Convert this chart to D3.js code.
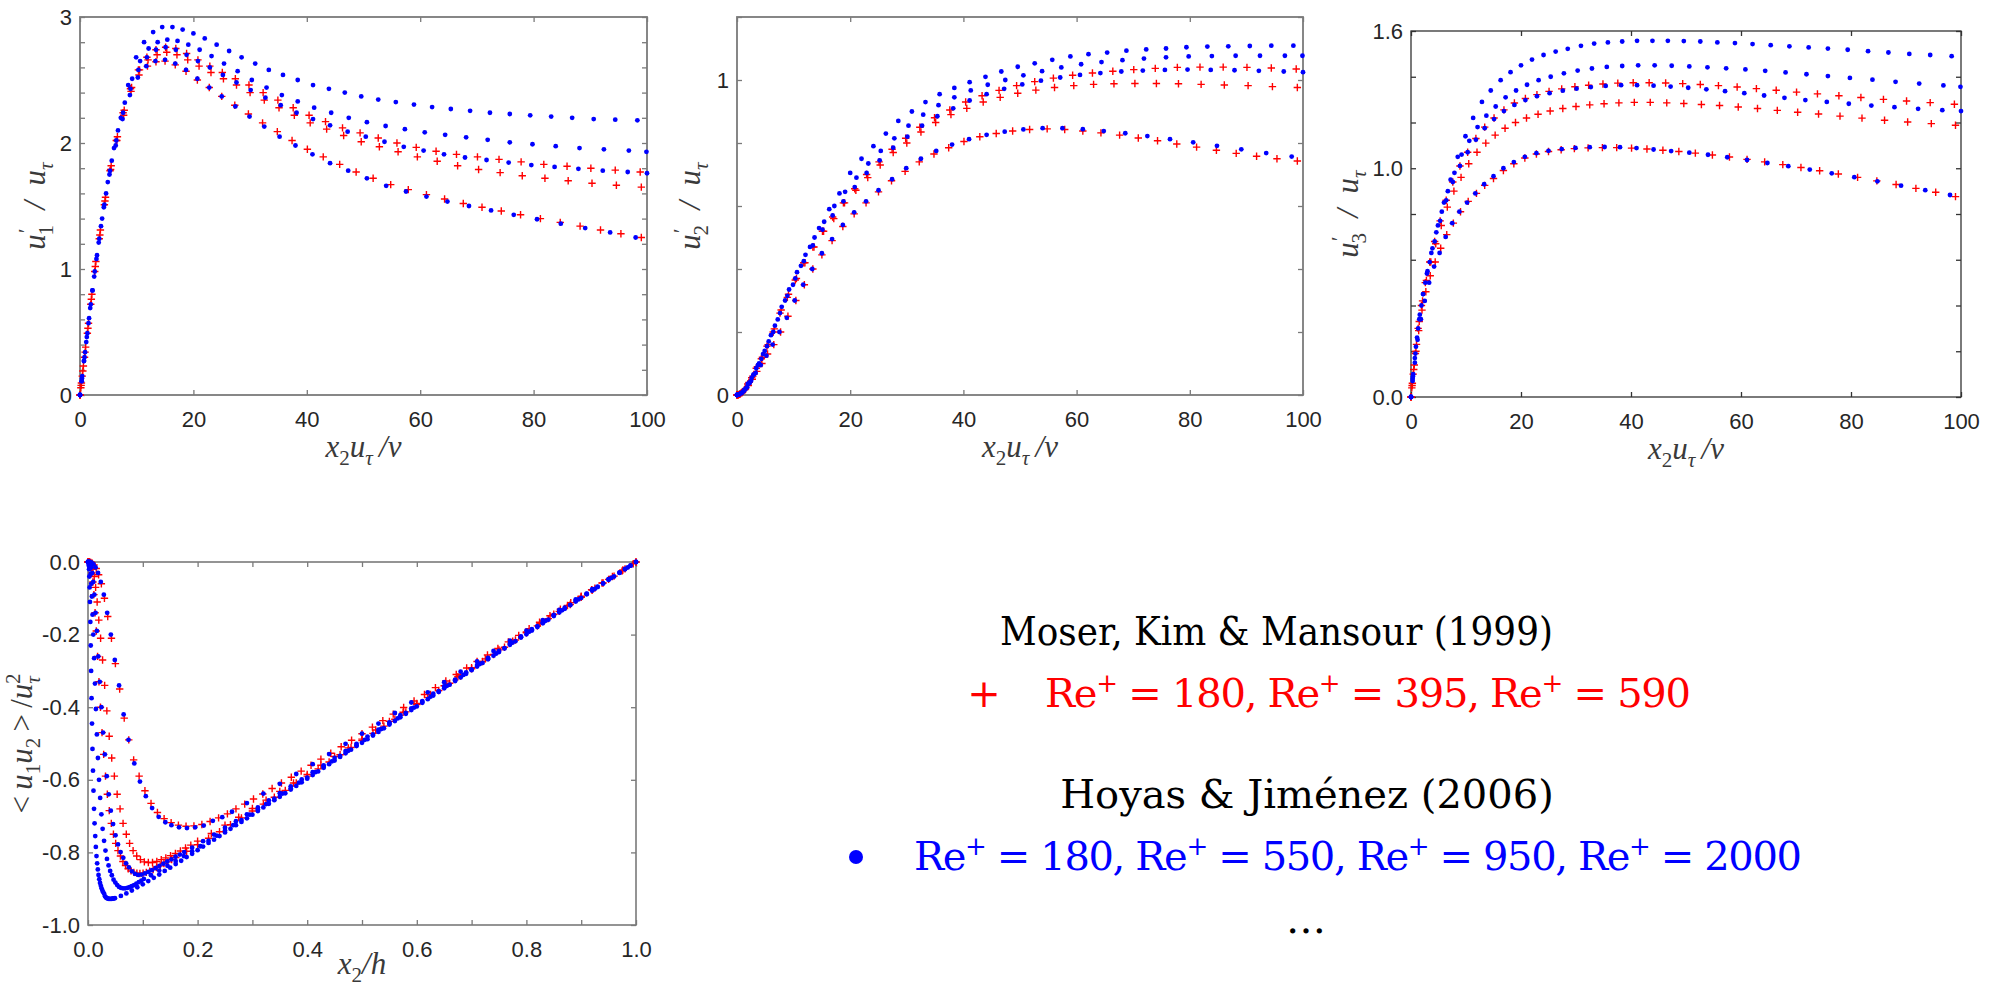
<!DOCTYPE html>
<html>
<head>
<meta charset="utf-8">
<script src="https://cdn.jsdelivr.net/npm/d3@7"></script>
<style>
body{margin:0;background:#fff;}
svg{display:block;}
.tick text{font-family:"Liberation Sans",Arial,sans-serif;font-size:22px;fill:#262626;}
.mlab{font-family:"Liberation Serif","Times New Roman",serif;font-style:italic;font-size:31px;fill:#3a3a3a;}
.leg{font-family:"DejaVu Serif",serif;font-size:40px;}
</style>
</head>
<body>
<svg id="fig" width="2004" height="990"></svg>
<script>
// ---- wall-normal positions x2 u_tau / nu of each run (panels 1-3) ----
const gridMKM180 = [0,0.2,0.5,0.9,1.4,2.0,2.7,3.5,4.4,5.4,6.5,7.7,9.0,10.4,11.9,13.4,15.0,16.8,18.7,20.7,22.8,25.0,27.3,29.7,32.2,34.8,37.4,40.1,42.9,45.8,48.7,51.7,54.8,57.9,61.1,64.3,67.6,70.9,74.3,77.7,81.2,84.7,88.2,91.8,95.4,99.0];
const gridMKM395 = [0,0.25,0.6,1.0,1.5,2.1,2.8,3.6,4.5,5.5,6.6,7.8,9.1,10.5,12.0,13.6,15.3,17.1,19.0,21.0,23.1,25.3,27.6,30.0,32.5,35.1,37.8,40.6,43.5,46.5,49.6,52.8,56.1,59.5,63.0,66.6,70.3,74.1,78.0,82.0,86.1,90.3,94.6,99.0];
const gridMKM590 = [0,0.15,0.4,0.8,1.3,1.9,2.6,3.4,4.3,5.3,6.4,7.6,8.9,10.3,11.8,13.4,15.1,16.9,18.8,20.8,22.9,25.1,27.4,29.8,32.3,34.9,37.6,40.4,43.3,46.3,49.4,52.6,55.9,59.3,62.8,66.4,70.1,73.9,77.8,81.8,85.9,90.1,94.4,98.8];
const gridHJ180 = [0,0.3,0.7,1.2,1.8,2.5,3.3,4.2,5.2,6.3,7.5,8.8,10.2,11.7,13.3,15.0,16.8,18.7,20.7,22.8,25.0,27.4,29.9,32.5,35.2,38.0,41.0,44.1,47.3,50.6,54.0,57.5,61.1,64.8,68.6,72.5,76.5,80.6,84.8,89.1,93.5,98.0];
const gridHJ550 = [0,0.35,0.8,1.3,1.9,2.6,3.4,4.3,5.3,6.4,7.6,8.9,10.3,11.8,13.4,15.1,16.9,18.8,20.8,22.9,25.2,27.6,30.1,32.7,35.4,38.2,41.1,44.1,47.2,50.4,53.7,57.1,60.6,64.2,67.9,71.7,75.6,79.6,83.7,87.9,92.2,96.6,100];
const gridHJ950 = [0,0.3,0.7,1.1,1.6,2.2,2.9,3.7,4.6,5.6,6.7,7.9,9.2,10.6,12.1,13.7,15.4,17.2,19.1,21.1,23.2,25.4,27.8,30.3,32.9,35.6,38.4,41.3,44.3,47.4,50.6,53.9,57.3,60.8,64.4,68.1,71.9,75.8,79.8,83.9,88.1,92.4,96.8,99.9];
const gridHJ2000 = [0,0.4,0.9,1.5,2.2,3.0,3.9,4.9,6.0,7.2,8.5,9.9,11.3,12.9,14.5,16.3,18.1,20.0,22.0,24.1,26.3,28.5,30.9,33.3,35.8,38.4,41.1,43.9,46.7,49.6,52.6,55.7,58.9,62.1,65.4,68.8,72.3,75.8,79.4,83.1,86.8,90.6,94.4,98.3];

// ---- u1' / u_tau ----
const u1MKM180 = [0,0.076,0.19,0.34,0.53,0.76,1.02,1.27,1.54,1.79,2.02,2.22,2.41,2.54,2.61,2.645,2.65,2.62,2.57,2.5,2.44,2.37,2.3,2.23,2.16,2.09,2.02,1.95,1.89,1.83,1.77,1.72,1.67,1.63,1.59,1.555,1.52,1.49,1.46,1.43,1.40,1.37,1.34,1.31,1.28,1.25];
const u1MKM395 = [0,0.095,0.23,0.38,0.57,0.8,1.06,1.31,1.57,1.82,2.05,2.26,2.44,2.58,2.66,2.70,2.72,2.70,2.66,2.61,2.56,2.51,2.46,2.40,2.34,2.28,2.22,2.16,2.11,2.06,2.01,1.97,1.93,1.89,1.855,1.82,1.79,1.765,1.74,1.72,1.70,1.68,1.665,1.65];
const u1MKM590 = [0,0.057,0.15,0.3,0.49,0.72,0.98,1.24,1.51,1.78,2.02,2.24,2.43,2.58,2.68,2.74,2.76,2.75,2.71,2.66,2.61,2.56,2.51,2.46,2.40,2.34,2.28,2.22,2.17,2.12,2.08,2.04,2.0,1.965,1.935,1.91,1.89,1.87,1.85,1.83,1.815,1.80,1.785,1.77];
const u1HJ180 = [0,0.11,0.27,0.46,0.69,0.94,1.21,1.49,1.75,1.98,2.19,2.38,2.52,2.61,2.65,2.66,2.63,2.58,2.51,2.44,2.37,2.29,2.21,2.13,2.05,1.98,1.91,1.84,1.78,1.72,1.66,1.615,1.575,1.535,1.50,1.465,1.43,1.395,1.36,1.325,1.29,1.25];
const u1HJ550 = [0,0.13,0.3,0.49,0.72,0.98,1.24,1.51,1.78,2.02,2.24,2.43,2.58,2.68,2.74,2.76,2.74,2.7,2.65,2.6,2.54,2.48,2.42,2.36,2.30,2.24,2.19,2.14,2.09,2.05,2.01,1.97,1.94,1.91,1.885,1.865,1.845,1.825,1.81,1.795,1.78,1.77,1.76];
const u1HJ950 = [0,0.11,0.27,0.42,0.61,0.83,1.08,1.34,1.6,1.86,2.1,2.32,2.51,2.65,2.75,2.8,2.82,2.81,2.78,2.74,2.69,2.63,2.57,2.5,2.44,2.38,2.33,2.28,2.24,2.2,2.165,2.135,2.11,2.085,2.065,2.045,2.025,2.005,1.99,1.975,1.96,1.95,1.94,1.93];
const u1HJ2000 = [0,0.15,0.34,0.57,0.83,1.11,1.4,1.69,1.96,2.2,2.46,2.68,2.8,2.88,2.92,2.92,2.90,2.87,2.83,2.78,2.73,2.68,2.63,2.58,2.54,2.50,2.46,2.43,2.40,2.37,2.345,2.325,2.305,2.285,2.27,2.255,2.24,2.23,2.22,2.21,2.20,2.19,2.185,2.18];

// ---- u2' / u_tau ----
const u2MKM180 = [0,0.001,0.003,0.008,0.017,0.03,0.05,0.075,0.1,0.13,0.16,0.2,0.25,0.3,0.35,0.4,0.445,0.49,0.535,0.575,0.61,0.645,0.68,0.71,0.74,0.765,0.785,0.805,0.82,0.83,0.838,0.843,0.845,0.843,0.838,0.832,0.825,0.816,0.807,0.797,0.787,0.777,0.767,0.758,0.75,0.743];
const u2MKM395 = [0,0.001,0.004,0.01,0.02,0.04,0.06,0.09,0.12,0.16,0.21,0.27,0.32,0.37,0.42,0.47,0.52,0.56,0.61,0.65,0.69,0.73,0.77,0.80,0.835,0.865,0.89,0.91,0.93,0.945,0.958,0.968,0.976,0.982,0.986,0.988,0.989,0.989,0.988,0.986,0.984,0.982,0.979,0.976];
const u2MKM590 = [0,0.0005,0.002,0.007,0.017,0.035,0.055,0.085,0.115,0.155,0.2,0.26,0.31,0.365,0.42,0.47,0.52,0.565,0.61,0.655,0.7,0.74,0.78,0.815,0.85,0.88,0.905,0.93,0.95,0.967,0.982,0.995,1.006,1.015,1.022,1.028,1.033,1.037,1.04,1.041,1.041,1.04,1.038,1.035];
const u2HJ180 = [0,0.002,0.006,0.013,0.025,0.045,0.07,0.095,0.125,0.16,0.2,0.245,0.3,0.35,0.4,0.45,0.495,0.54,0.58,0.615,0.65,0.685,0.72,0.75,0.775,0.795,0.812,0.826,0.836,0.843,0.847,0.847,0.844,0.838,0.831,0.822,0.812,0.802,0.791,0.78,0.768,0.757];
const u2HJ550 = [0,0.002,0.007,0.017,0.035,0.055,0.085,0.115,0.155,0.2,0.26,0.315,0.37,0.425,0.475,0.525,0.57,0.615,0.66,0.705,0.745,0.785,0.82,0.855,0.885,0.91,0.935,0.955,0.972,0.986,0.998,1.008,1.016,1.022,1.027,1.03,1.032,1.033,1.032,1.031,1.029,1.027,1.025];
const u2HJ950 = [0,0.001,0.005,0.011,0.022,0.04,0.065,0.095,0.13,0.17,0.22,0.28,0.335,0.39,0.445,0.5,0.55,0.6,0.645,0.69,0.735,0.775,0.815,0.855,0.89,0.92,0.945,0.967,0.985,1.0,1.015,1.028,1.04,1.05,1.057,1.063,1.068,1.072,1.075,1.076,1.077,1.077,1.077,1.077];
const u2HJ2000 = [0,0.002,0.007,0.018,0.037,0.065,0.1,0.14,0.19,0.24,0.3,0.35,0.41,0.47,0.53,0.59,0.64,0.705,0.75,0.79,0.83,0.87,0.9,0.93,0.955,0.975,0.993,1.01,1.027,1.042,1.053,1.064,1.075,1.082,1.087,1.093,1.097,1.1,1.104,1.106,1.107,1.108,1.109,1.109];

// ---- u3' / u_tau ----
const u3MKM180 = [0,0.05,0.12,0.2,0.29,0.38,0.46,0.53,0.59,0.65,0.71,0.76,0.81,0.855,0.89,0.925,0.955,0.99,1.02,1.045,1.062,1.073,1.081,1.086,1.089,1.09,1.09,1.088,1.084,1.079,1.073,1.066,1.058,1.049,1.039,1.028,1.016,1.003,0.989,0.975,0.96,0.945,0.929,0.912,0.895,0.876];
const u3MKM395 = [0,0.06,0.14,0.23,0.33,0.42,0.51,0.59,0.67,0.75,0.83,0.9,0.96,1.02,1.07,1.11,1.145,1.175,1.2,1.22,1.236,1.25,1.261,1.27,1.277,1.282,1.286,1.288,1.288,1.286,1.283,1.279,1.274,1.268,1.261,1.253,1.245,1.237,1.228,1.219,1.21,1.202,1.195,1.188];
const u3MKM590 = [0,0.04,0.1,0.19,0.3,0.4,0.5,0.59,0.68,0.77,0.86,0.94,1.01,1.07,1.13,1.18,1.22,1.255,1.285,1.305,1.322,1.336,1.347,1.356,1.363,1.368,1.372,1.374,1.374,1.373,1.37,1.366,1.361,1.355,1.348,1.341,1.333,1.325,1.317,1.309,1.301,1.294,1.287,1.28];
const u3HJ180 = [0,0.07,0.15,0.25,0.34,0.42,0.5,0.57,0.63,0.7,0.76,0.81,0.85,0.89,0.93,0.965,1.0,1.027,1.05,1.066,1.076,1.084,1.089,1.092,1.093,1.092,1.088,1.082,1.075,1.068,1.059,1.048,1.036,1.023,1.009,0.994,0.978,0.961,0.943,0.924,0.904,0.883];
const u3HJ550 = [0,0.09,0.19,0.3,0.4,0.5,0.59,0.68,0.77,0.86,0.94,1.01,1.07,1.125,1.175,1.215,1.25,1.277,1.298,1.315,1.328,1.339,1.348,1.355,1.36,1.363,1.363,1.361,1.357,1.352,1.345,1.337,1.328,1.318,1.308,1.298,1.29,1.282,1.274,1.267,1.26,1.254,1.25];
const u3HJ950 = [0,0.08,0.17,0.26,0.36,0.45,0.54,0.63,0.72,0.81,0.9,0.98,1.06,1.12,1.18,1.23,1.27,1.31,1.34,1.365,1.385,1.40,1.415,1.427,1.436,1.443,1.447,1.45,1.45,1.448,1.445,1.441,1.437,1.432,1.426,1.419,1.411,1.403,1.395,1.387,1.378,1.37,1.362,1.356];
const u3HJ2000 = [0,0.1,0.22,0.34,0.45,0.55,0.65,0.75,0.85,0.95,1.05,1.14,1.22,1.29,1.34,1.385,1.42,1.45,1.475,1.495,1.51,1.522,1.535,1.545,1.55,1.554,1.557,1.557,1.557,1.556,1.554,1.55,1.547,1.543,1.538,1.533,1.528,1.523,1.518,1.512,1.506,1.5,1.495,1.49];

// ---- panel 4: x2/h and <u1 u2>/u_tau^2 ----
const hMKM180 = [0,0.0011,0.0028,0.005,0.0078,0.011,0.015,0.0194,0.0244,0.030,0.036,0.0428,0.050,0.0578,0.0661,0.0744,0.0833,0.0933,0.1039,0.115,0.1267,0.1389,0.1517,0.165,0.1789,0.1933,0.2078,0.2228,0.2383,0.2544,
  0.270,0.286,0.302,0.319,0.336,0.353,0.371,0.389,0.407,0.425,0.443,0.462,0.481,0.500,0.519,0.538,0.557,0.576,0.595,0.614,0.634,0.653,0.672,0.691,0.710,0.729,0.748,0.767,0.786,0.805,0.824,0.843,0.862,0.881,0.900,0.919,0.938,0.957,0.976,0.995];
const uvMKM180 = [0,0,0,-0.001,-0.003,-0.008,-0.018,-0.035,-0.06,-0.1,-0.15,-0.21,-0.28,-0.35,-0.43,-0.49,-0.545,-0.59,-0.63,-0.665,-0.69,-0.707,-0.718,-0.725,-0.728,-0.727,-0.723,-0.715,-0.705,-0.694,
  -0.680,-0.667,-0.653,-0.639,-0.624,-0.609,-0.593,-0.576,-0.560,-0.543,-0.527,-0.509,-0.491,-0.473,-0.455,-0.437,-0.419,-0.401,-0.383,-0.365,-0.346,-0.328,-0.310,-0.292,-0.274,-0.256,-0.238,-0.220,-0.202,-0.184,-0.166,-0.148,-0.130,-0.112,-0.094,-0.076,-0.058,-0.040,-0.022,-0.005];
const hMKM395 = [0,0.0025,0.0053,0.0071,0.0091,0.0114,0.0139,0.0167,0.0197,0.023,0.0266,0.0304,0.0344,0.0387,0.0433,0.0481,0.0532,0.0585,0.064,0.0699,0.0759,0.0823,0.0889,0.0957,0.1028,0.1101,0.1177,0.1256,0.1337,0.142,0.1506,0.1595,0.1686,0.178,0.1876,
  0.2,0.225,0.25,0.275,0.3,0.325,0.35,0.375,0.4,0.425,0.45,0.475,0.5,0.525,0.55,0.575,0.6,0.625,0.65,0.675,0.7,0.725,0.75,0.775,0.8,0.825,0.85,0.875,0.9,0.925,0.95,0.975,1.0];
const uvMKM395 = [0,0,-0.003,-0.008,-0.02,-0.04,-0.07,-0.11,-0.16,-0.21,-0.27,-0.34,-0.41,-0.48,-0.54,-0.59,-0.64,-0.68,-0.72,-0.75,-0.775,-0.795,-0.81,-0.82,-0.826,-0.828,-0.828,-0.825,-0.82,-0.815,-0.809,-0.803,-0.796,-0.788,-0.78,
  -0.769,-0.748,-0.725,-0.703,-0.679,-0.656,-0.632,-0.609,-0.585,-0.56,-0.536,-0.512,-0.488,-0.463,-0.439,-0.414,-0.39,-0.365,-0.341,-0.316,-0.291,-0.267,-0.242,-0.218,-0.193,-0.169,-0.144,-0.12,-0.096,-0.072,-0.048,-0.024,0];
const hMKM590 = [0,0.0022,0.0032,0.0044,0.0058,0.0073,0.009,0.0108,0.0129,0.0151,0.0175,0.02,0.0227,0.0256,0.0286,0.0319,0.0353,0.0388,0.0425,0.0464,0.0505,0.0547,0.0592,0.0637,0.0685,0.0734,0.0785,0.0837,0.0892,0.0947,0.1005,0.1064,0.1125,0.1188,0.1253,0.1319,0.1386,0.1456,0.1527,0.16,
  0.18,0.2,0.22,0.24,0.26,0.28,0.3,0.32,0.34,0.36,0.38,0.4,0.42,0.44,0.46,0.48,0.5,0.52,0.54,0.56,0.58,0.6,0.62,0.64,0.66,0.68,0.7,0.72,0.74,0.76,0.78,0.8,0.82,0.84,0.86,0.88,0.9,0.92,0.94,0.96,0.98,1.0];
const uvMKM590 = [0,-0.001,-0.003,-0.007,-0.015,-0.03,-0.055,-0.09,-0.14,-0.19,-0.26,-0.33,-0.4,-0.47,-0.53,-0.59,-0.64,-0.685,-0.72,-0.75,-0.775,-0.795,-0.81,-0.825,-0.836,-0.845,-0.851,-0.855,-0.857,-0.858,-0.857,-0.855,-0.852,-0.847,-0.842,-0.837,-0.831,-0.826,-0.82,-0.814,
  -0.797,-0.779,-0.761,-0.743,-0.724,-0.705,-0.686,-0.667,-0.648,-0.629,-0.609,-0.59,-0.57,-0.551,-0.531,-0.511,-0.492,-0.472,-0.452,-0.433,-0.413,-0.393,-0.373,-0.354,-0.334,-0.314,-0.294,-0.274,-0.255,-0.235,-0.215,-0.195,-0.176,-0.156,-0.136,-0.117,-0.097,-0.078,-0.058,-0.039,-0.019,0];
const hHJ180 = [0,0.0017,0.0039,0.0067,0.01,0.0139,0.0183,0.0233,0.0289,0.035,0.0417,0.0489,0.0567,0.065,0.0739,0.0845,0.0948,0.1055,0.117,0.129,0.1412,0.1522,0.1661,0.1806,0.1956,0.2111,0.2278,0.245,0.2628,
  0.29,0.32,0.35,0.38,0.41,0.44,0.47,0.5,0.53,0.56,0.59,0.62,0.65,0.68,0.71,0.74,0.77,0.8,0.83,0.86,0.89,0.92,0.95,0.98];
const uvHJ180 = [0,0,0,-0.002,-0.006,-0.015,-0.03,-0.055,-0.09,-0.14,-0.2,-0.27,-0.34,-0.42,-0.49,-0.555,-0.605,-0.645,-0.678,-0.702,-0.717,-0.725,-0.731,-0.733,-0.731,-0.726,-0.713,-0.703,-0.688,
  -0.664,-0.638,-0.611,-0.584,-0.557,-0.529,-0.501,-0.473,-0.445,-0.416,-0.387,-0.359,-0.331,-0.302,-0.274,-0.245,-0.217,-0.189,-0.160,-0.132,-0.103,-0.075,-0.047,-0.019];
const hHJ550 = [0,0.0024,0.0047,0.0062,0.0078,0.0096,0.0116,0.0138,0.0162,0.0187,0.0215,0.0244,0.0275,0.0307,0.0342,0.0378,0.0416,0.0458,0.0502,0.0547,0.0595,0.0644,0.0695,0.0747,0.0802,0.0858,0.0916,0.0976,0.1038,0.1102,0.1167,0.1235,0.1304,0.1375,0.1447,0.1522,0.1598,0.1676,0.1756,
  0.19,0.21,0.23,0.25,0.27,0.29,0.31,0.33,0.35,0.37,0.39,0.41,0.43,0.45,0.47,0.49,0.51,0.53,0.55,0.57,0.59,0.61,0.63,0.65,0.67,0.69,0.71,0.73,0.75,0.77,0.79,0.81,0.83,0.85,0.87,0.89,0.91,0.93,0.95,0.97,0.99];
const uvHJ550 = [0,-0.001,-0.007,-0.015,-0.03,-0.055,-0.09,-0.14,-0.19,-0.26,-0.33,-0.4,-0.47,-0.53,-0.59,-0.64,-0.685,-0.722,-0.753,-0.778,-0.799,-0.815,-0.83,-0.841,-0.852,-0.859,-0.862,-0.861,-0.858,-0.854,-0.849,-0.843,-0.837,-0.831,-0.825,-0.819,-0.812,-0.806,-0.799,
  -0.787,-0.769,-0.751,-0.732,-0.714,-0.695,-0.676,-0.657,-0.637,-0.618,-0.599,-0.579,-0.56,-0.54,-0.521,-0.501,-0.481,-0.462,-0.442,-0.422,-0.403,-0.383,-0.363,-0.343,-0.324,-0.304,-0.284,-0.264,-0.245,-0.225,-0.205,-0.185,-0.166,-0.146,-0.126,-0.107,-0.087,-0.068,-0.048,-0.029,-0.01];
const hHJ950 = [0,0.0012,0.0023,0.0031,0.0039,0.0048,0.0059,0.0071,0.0083,0.0097,0.0112,0.0127,0.0144,0.0162,0.0181,0.0201,0.0222,0.0244,0.0267,0.0293,0.0319,0.0346,0.0375,0.0404,0.0435,0.0466,0.0499,0.0533,0.0567,0.0603,0.064,0.0678,0.0717,0.0757,0.0798,0.084,0.0883,0.0927,0.0973,0.1019,
  0.115,0.13,0.145,0.16,0.175,0.19,0.205,0.22,0.235,0.25,0.265,0.28,0.295,0.31,0.325,0.34,0.355,0.37,0.385,0.4,0.415,0.43,0.445,0.46,0.475,0.49,0.505,0.52,0.535,0.55,0.565,0.58,0.595,0.61,0.625,0.64,0.655,0.67,0.685,0.7,0.715,0.73,0.745,0.76,0.775,0.79,0.805,0.82,0.835,0.85,0.865,0.88,0.895,0.91,0.925,0.94,0.955,0.97,0.985,1.0];
const uvHJ950 = [0,0,-0.004,-0.008,-0.017,-0.033,-0.06,-0.095,-0.145,-0.2,-0.265,-0.335,-0.405,-0.475,-0.54,-0.6,-0.65,-0.695,-0.735,-0.768,-0.795,-0.818,-0.836,-0.851,-0.863,-0.875,-0.883,-0.89,-0.895,-0.898,-0.899,-0.899,-0.898,-0.896,-0.893,-0.89,-0.886,-0.882,-0.878,-0.873,
  -0.863,-0.850,-0.837,-0.824,-0.810,-0.797,-0.783,-0.768,-0.754,-0.740,-0.725,-0.711,-0.696,-0.682,-0.667,-0.652,-0.638,-0.623,-0.608,-0.594,-0.579,-0.564,-0.549,-0.534,-0.520,-0.505,-0.490,-0.475,-0.460,-0.445,-0.431,-0.416,-0.401,-0.386,-0.371,-0.356,-0.341,-0.326,-0.311,-0.296,-0.281,-0.266,-0.252,-0.237,-0.222,-0.207,-0.192,-0.177,-0.162,-0.147,-0.133,-0.118,-0.103,-0.088,-0.074,-0.059,-0.044,-0.029,-0.015,0];
const hHJ2000 = [0,0.00075,0.0011,0.0015,0.002,0.0025,0.003,0.0036,0.0043,0.005,0.0057,0.0065,0.0073,0.0082,0.0091,0.01,0.011,0.012,0.0132,0.0143,0.0155,0.0167,0.0179,0.0192,0.0206,0.022,0.0234,0.0248,0.0263,0.0279,0.0295,0.0311,0.0327,0.0344,0.0362,0.0379,0.0397,0.0416,0.0434,0.0453,0.0472,0.0492,
  0.06,0.07,0.08,0.09,0.10,0.11,0.12,0.13,0.14,0.15,0.16,0.17,0.18,0.19,0.20,0.21,0.22,0.23,0.24,0.25,0.26,0.27,0.28,0.29,0.30,0.31,0.32,0.33,0.34,0.35,0.36,0.37,0.38,0.39,0.40,0.41,0.42,0.43,0.44,0.45,0.46,0.47,0.48,0.49,0.50,0.51,0.52,0.53,0.54,0.55,0.56,0.57,0.58,0.59,0.60,0.61,0.62,0.63,0.64,0.65,0.66,0.67,0.68,0.69,0.70,0.71,0.72,0.73,0.74,0.75,0.76,0.77,0.78,0.79,0.80,0.81,0.82,0.83,0.84,0.85,0.86,0.87,0.88,0.89,0.90,0.91,0.92,0.93,0.94,0.95,0.96,0.97,0.98,0.99,1.0];
const uvHJ2000 = [0,-0.001,-0.004,-0.01,-0.02,-0.04,-0.07,-0.11,-0.165,-0.23,-0.3,-0.375,-0.445,-0.515,-0.575,-0.63,-0.68,-0.72,-0.755,-0.785,-0.81,-0.83,-0.847,-0.862,-0.874,-0.884,-0.892,-0.899,-0.905,-0.91,-0.914,-0.921,-0.924,-0.926,-0.927,-0.928,-0.928,-0.928,-0.928,-0.927,-0.927,-0.926,
  -0.920,-0.913,-0.905,-0.896,-0.888,-0.879,-0.870,-0.861,-0.851,-0.842,-0.832,-0.823,-0.813,-0.804,-0.794,-0.784,-0.774,-0.765,-0.755,-0.745,-0.735,-0.725,-0.716,-0.706,-0.696,-0.686,-0.676,-0.666,-0.656,-0.647,-0.637,-0.627,-0.617,-0.607,-0.597,-0.587,-0.577,-0.567,-0.557,-0.547,-0.537,-0.527,-0.517,-0.507,-0.498,-0.488,-0.478,-0.468,-0.458,-0.448,-0.438,-0.428,-0.418,-0.408,-0.398,-0.388,-0.378,-0.368,-0.358,-0.348,-0.338,-0.328,-0.318,-0.308,-0.298,-0.288,-0.278,-0.268,-0.258,-0.248,-0.238,-0.228,-0.218,-0.208,-0.199,-0.189,-0.179,-0.169,-0.159,-0.149,-0.139,-0.129,-0.119,-0.109,-0.099,-0.089,-0.079,-0.069,-0.059,-0.049,-0.04,-0.03,-0.02,-0.01,0];

// ---- ticks ----
const tickPlus = [0,20,40,60,80,100];
const tickPlusText = ["0","20","40","60","80","100"];
const tickU1 = [0,0.2,0.4,0.6,0.8,1,1.2,1.4,1.6,1.8,2,2.2,2.4,2.6,2.8,3];
const tickU1Text = ["0","","","","","1","","","","","2","","","","","3"];
const tickU2 = [0,0.2,0.4,0.6,0.8,1,1.2];
const tickU2Text = ["0","","","","","1",""];
const tickU3 = [0,0.2,0.4,0.6,0.8,1,1.2,1.4,1.6];
const tickU3Text = ["0.0","","","","","1.0","","","1.6"];
const tickH = [0,0.1,0.2,0.3,0.4,0.5,0.6,0.7,0.8,0.9,1];
const tickHText = ["0.0","","0.2","","0.4","","0.6","","0.8","","1.0"];
const tickUV = [-1,-0.8,-0.6,-0.4,-0.2,0];
const tickUVText = ["-1.0","-0.8","-0.6","-0.4","-0.2","0.0"];

const RED = "#ff0000", BLUE = "#0000ff";
const svg = d3.select("#fig");

// helper: italic math label made of tspans (kind n / sub / sup)
function mathText(sel, parts, size) {
  let shift = 0;
  parts.forEach(p => {
    const t = p[0], kind = p[1], dx = p[2];
    const target = kind === "sub" ? size * 0.26 : kind === "sup" ? -size * 0.4 : 0;
    const ts = sel.append("tspan").text(t).attr("dy", target - shift);
    if (dx) ts.attr("dx", dx);
    if (kind !== "n") ts.attr("font-size", size * 0.68);
    if (p[3]) ts.attr("font-style", "normal");
    shift = target;
  });
}

function drawPanel(p) {
  const x = d3.scaleLinear().domain(p.xd).range([p.l, p.r]);
  const y = d3.scaleLinear().domain(p.yd).range([p.b, p.t]);
  const g = svg.append("g");

  g.append("g").attr("transform", `translate(0,${p.b})`)
    .call(d3.axisBottom(x).tickValues(p.xt).tickFormat((d, i) => p.xtt[i]).tickSizeInner(-5).tickSizeOuter(0).tickPadding(16));
  g.append("g").attr("transform", `translate(0,${p.t})`)
    .call(d3.axisTop(x).tickValues(p.xt).tickFormat("").tickSizeInner(-5).tickSizeOuter(0));
  g.append("g").attr("transform", `translate(${p.l},0)`)
    .call(d3.axisLeft(y).tickValues(p.yt).tickFormat((d, i) => p.ytt[i]).tickSizeInner(-5).tickSizeOuter(0).tickPadding(8));
  g.append("g").attr("transform", `translate(${p.r},0)`)
    .call(d3.axisRight(y).tickValues(p.yt).tickFormat("").tickSizeInner(-5).tickSizeOuter(0));
  g.selectAll(".domain").remove();
  g.selectAll(".tick line").attr("stroke", p.ac).attr("stroke-width", 1.3);

  g.append("rect").attr("x", p.l).attr("y", p.t).attr("width", p.r - p.l).attr("height", p.b - p.t)
    .attr("fill", "none").attr("stroke", p.ac).attr("stroke-width", p.aw);

  // markers
  p.series.forEach(s => {
    const pts = d3.zip(s.x, s.y);
    if (s.mk === "plus") {
      g.append("g").selectAll("path").data(pts).join("path")
        .attr("d", "M-3.7,0H3.7M0,-3.7V3.7")
        .attr("transform", d => `translate(${x(d[0])},${y(d[1])})`)
        .attr("stroke", RED).attr("stroke-width", 1.4).attr("fill", "none");
    } else {
      g.append("g").selectAll("circle").data(pts).join("circle")
        .attr("cx", d => x(d[0])).attr("cy", d => y(d[1])).attr("r", 2.4)
        .attr("fill", BLUE);
    }
  });

  const xl = g.append("text").attr("class", "mlab").attr("x", (p.l + p.r) / 2).attr("y", p.xly)
    .attr("text-anchor", "middle");
  mathText(xl, p.xlab, 31);
  const yl = g.append("text").attr("class", "mlab").attr("text-anchor", "middle")
    .attr("transform", `translate(${p.ylx},${(p.t + p.b) / 2}) rotate(-90)`);
  mathText(yl, p.ylab, 31);
}

const xPlusLabel = [["x","n"],["2","sub",0,1],["u","n"],["τ","sub"],["\u2009/ν","n"]];

drawPanel({
  l: 80, r: 647, t: 17, b: 395, xd: [0, 100], yd: [0, 3],
  xt: tickPlus, xtt: tickPlusText, yt: tickU1, ytt: tickU1Text,
  ac: "#7a7a7a", aw: 1.8, xly: 457, ylx: 45,
  xlab: xPlusLabel,
  ylab: [["u","n"],["′","sup"],["1","sub",-6,1],["\u2002/\u2002u","n"],["τ","sub"]],
  series: [
    {x: gridMKM180, y: u1MKM180, mk: "plus"},
    {x: gridMKM395, y: u1MKM395, mk: "plus"},
    {x: gridMKM590, y: u1MKM590, mk: "plus"},
    {x: gridHJ180, y: u1HJ180, mk: "dot"},
    {x: gridHJ550, y: u1HJ550, mk: "dot"},
    {x: gridHJ950, y: u1HJ950, mk: "dot"},
    {x: gridHJ2000, y: u1HJ2000, mk: "dot"}
  ]
});

drawPanel({
  l: 737, r: 1303, t: 17, b: 395, xd: [0, 100], yd: [0, 1.2],
  xt: tickPlus, xtt: tickPlusText, yt: tickU2, ytt: tickU2Text,
  ac: "#7a7a7a", aw: 1.8, xly: 457, ylx: 700,
  xlab: xPlusLabel,
  ylab: [["u","n"],["′","sup"],["2","sub",-6,1],["\u2002/\u2002u","n"],["τ","sub"]],
  series: [
    {x: gridMKM180, y: u2MKM180, mk: "plus"},
    {x: gridMKM395, y: u2MKM395, mk: "plus"},
    {x: gridMKM590, y: u2MKM590, mk: "plus"},
    {x: gridHJ180, y: u2HJ180, mk: "dot"},
    {x: gridHJ550, y: u2HJ550, mk: "dot"},
    {x: gridHJ950, y: u2HJ950, mk: "dot"},
    {x: gridHJ2000, y: u2HJ2000, mk: "dot"}
  ]
});

drawPanel({
  l: 1411, r: 1961, t: 31, b: 397, xd: [0, 100], yd: [0, 1.6],
  xt: tickPlus, xtt: tickPlusText, yt: tickU3, ytt: tickU3Text,
  ac: "#333333", aw: 1.3, xly: 459, ylx: 1358,
  xlab: xPlusLabel,
  ylab: [["u","n"],["′","sup"],["3","sub",-6,1],["\u2002/\u2002u","n"],["τ","sub"]],
  series: [
    {x: gridMKM180, y: u3MKM180, mk: "plus"},
    {x: gridMKM395, y: u3MKM395, mk: "plus"},
    {x: gridMKM590, y: u3MKM590, mk: "plus"},
    {x: gridHJ180, y: u3HJ180, mk: "dot"},
    {x: gridHJ550, y: u3HJ550, mk: "dot"},
    {x: gridHJ950, y: u3HJ950, mk: "dot"},
    {x: gridHJ2000, y: u3HJ2000, mk: "dot"}
  ]
});

drawPanel({
  l: 88, r: 636, t: 562, b: 925, xd: [0, 1], yd: [-1, 0],
  xt: tickH, xtt: tickHText, yt: tickUV, ytt: tickUVText,
  ac: "#7a7a7a", aw: 1.6, xly: 974, ylx: 32,
  xlab: [["x","n"],["2","sub",0,1],["/h","n"]],
  ylab: [["<\u2009","n",0,1],["u","n"],["1","sub",0,1],["u","n"],["2","sub",0,1],["\u2009>\u2009/","n",0,1],["u","n"],["τ","sub"],["2","sup",-8,1]],
  series: [
    {x: hMKM180, y: uvMKM180, mk: "plus"},
    {x: hMKM395, y: uvMKM395, mk: "plus"},
    {x: hMKM590, y: uvMKM590, mk: "plus"},
    {x: hHJ180, y: uvHJ180, mk: "dot"},
    {x: hHJ550, y: uvHJ550, mk: "dot"},
    {x: hHJ950, y: uvHJ950, mk: "dot"},
    {x: hHJ2000, y: uvHJ2000, mk: "dot"}
  ]
});

// ---- legend text ----
const leg = svg.append("g").attr("class", "leg");
leg.append("text").attr("x", 1000).attr("y", 645).attr("fill", "#000")
  .attr("textLength", 553).attr("lengthAdjust", "spacingAndGlyphs")
  .text("Moser, Kim & Mansour (1999)");
leg.append("text").attr("x", 984).attr("y", 707).attr("text-anchor", "middle").attr("fill", RED).text("+");

function reLine(x0, y0, values, color, len) {
  const t = leg.append("text").attr("x", x0).attr("y", y0).attr("fill", color)
    .attr("textLength", len).attr("lengthAdjust", "spacing");
  values.forEach((v, i) => {
    t.append("tspan").attr("dy", 0).text((i === 0 ? "" : ", ") + "Re");
    t.append("tspan").attr("dy", -15).attr("font-size", 26).text("+");
    t.append("tspan").attr("dy", 15).text(" = " + v);
  });
}
reLine(1045, 707, ["180", "395", "590"], RED, 646);

leg.append("text").attr("x", 1307).attr("y", 808).attr("text-anchor", "middle").attr("fill", "#000")
  .text("Hoyas & Jiménez (2006)");
leg.append("circle").attr("cx", 856).attr("cy", 857).attr("r", 7).attr("fill", BLUE);
reLine(914, 870, ["180", "550", "950", "2000"], BLUE, 888);
leg.append("text").attr("x", 1306).attr("y", 933).attr("text-anchor", "middle").attr("fill", "#000").text("…");
</script>
</body>
</html>
